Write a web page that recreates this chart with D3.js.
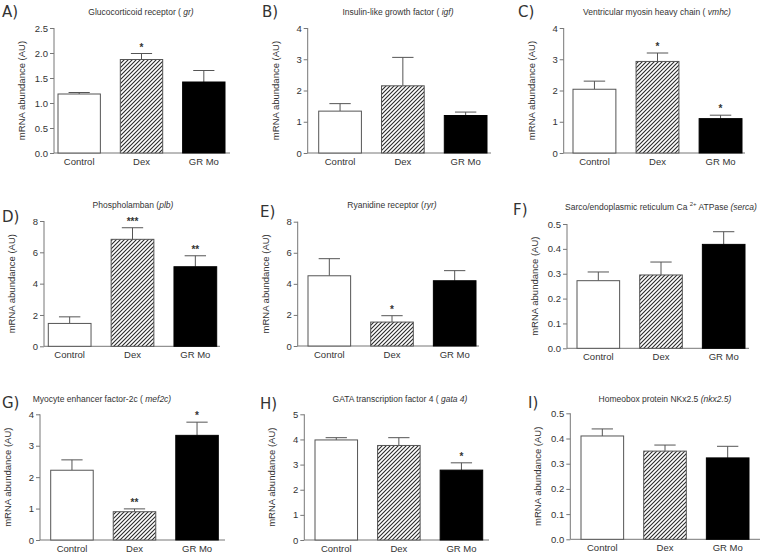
<!DOCTYPE html>
<html><head><meta charset="utf-8">
<script src="https://cdn.jsdelivr.net/npm/d3@7"></script>
<style>
body{margin:0;background:#fff;}
svg{display:block;}
text{font-family:"Liberation Sans",Arial,sans-serif;fill:#333;}
</style></head>
<body>
<svg id="chart" width="769" height="555"></svg>
<script>
// ---- data ----
const categories = ["Control", "Dex", "GR Mo"];
const panelLetters = ["A)", "B)", "C)", "D)", "E)", "F)", "G)", "H)", "I)"];
const titleMain = ["Glucocorticoid receptor ( ", "Insulin-like growth factor ( ", "Ventricular myosin heavy chain ( ",
  "Phospholamban (", "Ryanidine receptor (", "Sarco/endoplasmic reticulum Ca ",
  "Myocyte enhancer factor-2c ( ", "GATA transcription factor 4 ( ", "Homeobox protein NKx2.5  "];
const titleGene = ["gr)", "igf)", "vmhc)", "plb)", "ryr)", "(serca)", "mef2c)", "gata 4)", "(nkx2.5)"];
const yAxisLabel = "mRNA abundance (AU)";

const grMean = [1.18, 1.87, 1.42],    grSem = [0.03, 0.12, 0.23],   grSig = ["", "*", ""];
const igfMean = [1.34, 2.15, 1.20],   igfSem = [0.24, 0.91, 0.11],  igfSig = ["", "", ""];
const vmhcMean = [2.04, 2.93, 1.10],  vmhcSem = [0.26, 0.27, 0.11], vmhcSig = ["", "*", "*"];
const plbMean = [1.46, 6.83, 5.08],   plbSem = [0.42, 0.74, 0.70],  plbSig = ["", "***", "**"];
const ryrMean = [4.52, 1.54, 4.20],   ryrSem = [1.10, 0.41, 0.65],  ryrSig = ["", "*", ""];
const sercaMean = [0.272, 0.295, 0.418], sercaSem = [0.035, 0.052, 0.051], sercaSig = ["", "", ""];
const mef2cMean = [2.22, 0.90, 3.33], mef2cSem = [0.33, 0.09, 0.42], mef2cSig = ["", "**", "*"];
const gata4Mean = [3.98, 3.76, 2.78], gata4Sem = [0.09, 0.31, 0.29], gata4Sig = ["", "", "*"];
const nkxMean = [0.410, 0.350, 0.323], nkxSem = [0.028, 0.024, 0.046], nkxSig = ["", "", ""];

const yMax = [2.5, 4, 4, 8, 8, 0.5, 4, 5, 0.5];
const yTicks = [
  [0, 0.5, 1.0, 1.5, 2.0, 2.5], [0, 1, 2, 3, 4], [0, 1, 2, 3, 4],
  [0, 2, 4, 6, 8], [0, 2, 4, 6, 8], [0, 0.1, 0.2, 0.3, 0.4, 0.5],
  [0, 1, 2, 3, 4], [0, 1, 2, 3, 4, 5], [0, 0.1, 0.2, 0.3, 0.4, 0.5]];
const yFormat = [".1f", "d", "d", "d", "d", ".1f", "d", "d", ".1f"];

const means = [grMean, igfMean, vmhcMean, plbMean, ryrMean, sercaMean, mef2cMean, gata4Mean, nkxMean];
const sems = [grSem, igfSem, vmhcSem, plbSem, ryrSem, sercaSem, mef2cSem, gata4Sem, nkxSem];
const sigs = [grSig, igfSig, vmhcSig, plbSig, ryrSig, sercaSig, mef2cSig, gata4Sig, nkxSig];

// ---- layout (pixel geometry per panel) ----
const layout = [
  {ax: 54,    yTop: 28,    y0: 153,   b0: 58,    b1: 225,   axEnd: 230, tx: 141, ty: 15,  lx: 2,   ly: 17},
  {ax: 307.7, yTop: 28,    y0: 153,   b0: 318.7, b1: 487,   axEnd: 491, tx: 398, ty: 15,  lx: 262, ly: 17},
  {ax: 563.7, yTop: 28,    y0: 153,   b0: 573,   b1: 742,   axEnd: 745, tx: 657, ty: 15,  lx: 518, ly: 17},
  {ax: 44,    yTop: 221,   y0: 346.3, b0: 48.3,  b1: 216.7, axEnd: 220, tx: 133, ty: 208, lx: 2,   ly: 222},
  {ax: 297.7, yTop: 221.7, y0: 346,   b0: 308,   b1: 476,   axEnd: 479, tx: 392, ty: 208, lx: 260, ly: 217},
  {ax: 567,   yTop: 224,   y0: 348.3, b0: 577,   b1: 745,   axEnd: 749, tx: 661, ty: 210, lx: 513, ly: 215},
  {ax: 40,    yTop: 414.3, y0: 540,   b0: 50.7,  b1: 218.3, axEnd: 225, tx: 102, ty: 402, lx: 2,   ly: 408},
  {ax: 304.3, yTop: 414.3, y0: 540,   b0: 315,   b1: 482.7, axEnd: 489, tx: 400, ty: 402, lx: 260, ly: 409},
  {ax: 570.3, yTop: 413.3, y0: 539.3, b0: 581,   b1: 749,   axEnd: 760, tx: 665, ty: 402, lx: 528, ly: 408}
];

const svg = d3.select("#chart");
const defs = svg.append("defs");
const pat = defs.append("pattern").attr("id", "hatch")
  .attr("patternUnits", "userSpaceOnUse").attr("width", 4).attr("height", 4);
pat.append("rect").attr("width", 4).attr("height", 4).attr("fill", "#fff");
pat.append("path").attr("d", "M-1,1 L1,-1 M0,4 L4,0 M3,5 L5,3")
  .attr("stroke", "#2a2a2a").attr("stroke-width", 1.1);

const fills = ["#fff", "url(#hatch)", "#000"];
const axisColor = "#777";

layout.forEach((L, i) => {
  const g = svg.append("g");
  const y = d3.scaleLinear().domain([0, yMax[i]]).range([L.y0, L.yTop]);
  const x = d3.scaleBand().domain(categories).range([L.b0, L.b1]).paddingInner(0.32).paddingOuter(0);

  // y axis
  const yAxis = d3.axisLeft(y).tickValues(yTicks[i]).tickFormat(d3.format(yFormat[i])).tickSize(4).tickPadding(2);
  const ya = g.append("g").attr("transform", `translate(${L.ax},0)`).call(yAxis);
  ya.select(".domain").attr("stroke", axisColor).attr("d", `M-0,${L.y0}V${L.yTop}`);
  ya.selectAll(".tick line").attr("stroke", axisColor);
  ya.selectAll(".tick text").attr("font-size", 9.5).attr("fill", "#333")
    .style("font-family", '"Liberation Sans",Arial,sans-serif');

  // x axis (no ticks)
  const xAxis = d3.axisBottom(x).tickSize(0).tickPadding(5);
  const xa = g.append("g").attr("transform", `translate(0,${L.y0})`).call(xAxis);
  xa.select(".domain").attr("stroke", axisColor).attr("d", `M${L.ax},0H${L.axEnd}`);
  xa.selectAll(".tick text").attr("font-size", 9.5).attr("fill", "#333")
    .style("font-family", '"Liberation Sans",Arial,sans-serif');

  const rows = categories.map((c, k) => ({c, m: means[i][k], s: sems[i][k], sig: sigs[i][k], k}));

  // error bars (upper only)
  rows.forEach(r => {
    const cx = x(r.c) + x.bandwidth() / 2;
    const cw = x.bandwidth() * 0.25;
    g.append("path")
      .attr("d", `M${cx},${y(r.m)}V${y(r.m + r.s)}M${cx - cw},${y(r.m + r.s)}H${cx + cw}`)
      .attr("stroke", "#555").attr("stroke-width", 1).attr("fill", "none");
  });

  // bars
  g.selectAll("rect.bar").data(rows).enter().append("rect")
    .attr("class", "bar")
    .attr("x", d => x(d.c)).attr("width", x.bandwidth())
    .attr("y", d => y(d.m)).attr("height", d => L.y0 - y(d.m))
    .attr("fill", d => fills[d.k])
    .attr("stroke", d => d.k === 2 ? "#000" : "#555").attr("stroke-width", 1);

  // significance stars
  g.selectAll("text.sig").data(rows.filter(d => d.sig)).enter().append("text")
    .attr("class", "sig")
    .attr("x", d => x(d.c) + x.bandwidth() / 2)
    .attr("y", d => y(d.m + d.s) - 3)
    .attr("text-anchor", "middle").attr("font-size", 10).attr("font-weight", "bold")
    .text(d => d.sig);

  // y label
  g.append("text")
    .attr("transform", `translate(${L.ax - 29},${(L.y0 + L.yTop) / 2}) rotate(-90)`)
    .attr("text-anchor", "middle").attr("font-size", 9.5)
    .text(yAxisLabel);

  // title
  const t = g.append("text").attr("x", L.tx).attr("y", L.ty).attr("text-anchor", "middle").attr("font-size", 8.5);
  t.append("tspan").text(titleMain[i]);
  if (i === 5) {
    t.append("tspan").attr("font-size", 6).attr("dy", -4).text("2+");
    t.append("tspan").attr("dy", 4).text(" ATPase ");
  }
  t.append("tspan").attr("font-style", "italic").text(titleGene[i]);

  // panel letter
  g.append("text").attr("x", L.lx).attr("y", L.ly)
    .style("font-family", '"DejaVu Sans",sans-serif').attr("font-size", 15).attr("fill", "#111")
    .text(panelLetters[i]);
});
</script>
</body></html>
